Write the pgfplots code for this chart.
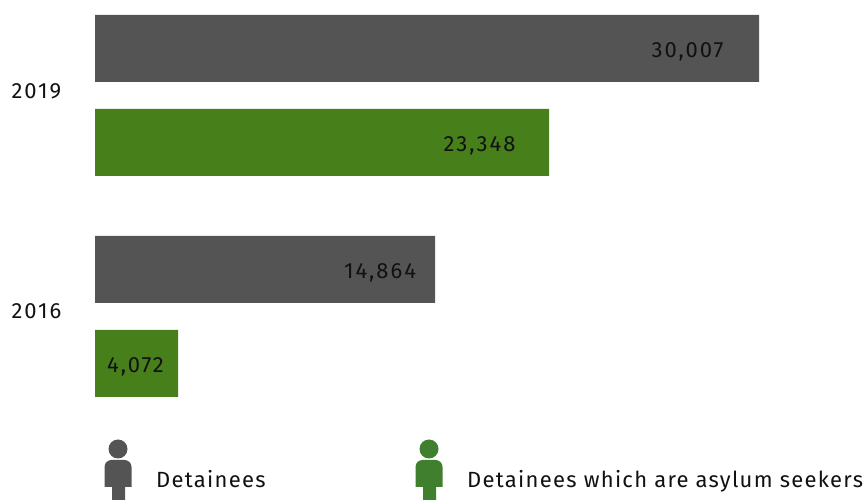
\documentclass[border=0pt]{standalone}
\usepackage{pgfplots}
\pgfplotsset{compat=1.18}
\usepackage{fontspec}
\setmainfont[LetterSpace=9]{Fira Sans}
\newfontfamily\legfont[LetterSpace=5.8]{Fira Sans}
\definecolor{detgrey}{HTML}{545454}
\definecolor{detgreen}{HTML}{47801B}
\definecolor{icongreen}{HTML}{3F7F2E}
\definecolor{labelink}{HTML}{111111}
\newcommand{\lab}{\fontsize{22}{22}\selectfont}
% len = bar length as drawn in the picture (px); it is not proportional to the printed value
% labx = centre of the printed number, same units
\pgfplotstableread{
pos len labx value
451.5 664 592.5 {30,007}
230.5 340 285 {14,864}
}\detainees
\pgfplotstableread{
pos len labx value
357.5 454 384.5 {23,348}
136.5 83 40.5 {4,072}
}\asylum
\begin{document}
\begin{tikzpicture}
\begin{axis}[
    at={(0,0)},anchor=south west,
    scale only axis,
    width=867pt,height=500pt,
    xmin=-95,xmax=772,
    ymin=0,ymax=500,
    axis x line=none,
    axis y line=left,
    axis line style={draw=none},
    y axis line style={-},
    major tick length=0pt,
    xbar,
    bar width=67pt,
    bar shift=0pt,
    ytick={189,409},
    yticklabels={\textnormal{2016},\textnormal{2019}},
    yticklabel style={anchor=west,xshift=8pt,font=\lab,text=labelink},
    clip=false,
    nodes near coords style={font=\lab,text=labelink,anchor=center},
]
\addplot[fill=detgrey,draw=none] table[x=len,y=pos] {\detainees};
\addplot[fill=detgreen,draw=none] table[x=len,y=pos] {\asylum};
% printed numbers, set at their own x
\addplot[draw=none,fill=none,point meta=explicit symbolic,nodes near coords,
    every node near coord/.append style={anchor=center,yshift=-3pt}]
    table[x=labx,y=pos,meta=value] {\detainees};
\addplot[draw=none,fill=none,point meta=explicit symbolic,nodes near coords,
    every node near coord/.append style={anchor=center,yshift=-3pt}]
    table[x=labx,y=pos,meta=value] {\asylum};
\end{axis}
% legend icons and text, in px from the top left
\begin{scope}[x=1pt,y=-1pt,yshift=500pt]
\newcommand{\person}[2]{%
  \fill[#2] (#1,449) circle (9.5);
  \fill[#2] (#1-13.5,487) -- (#1-13.5,467) to[out=90,in=180] (#1-6.5,460)
    -- (#1+6.5,460) to[out=0,in=90] (#1+13.5,467) -- (#1+13.5,487)
    -- (#1+7,487) -- (#1+7,500) -- (#1-6,500) -- (#1-6,487) -- cycle;}
\person{118}{detgrey}
\person{429}{icongreen}
\node[anchor=base west,inner sep=0pt,font=\legfont\lab,text=labelink] at (156,488) {Detainees};
\node[anchor=base west,inner sep=0pt,font=\legfont\lab,text=labelink] at (467,488) {Detainees which are asylum seekers};
\end{scope}
\pgfresetboundingbox
\path[use as bounding box] (0,0) rectangle (867pt,500pt);
\end{tikzpicture}
\end{document}
